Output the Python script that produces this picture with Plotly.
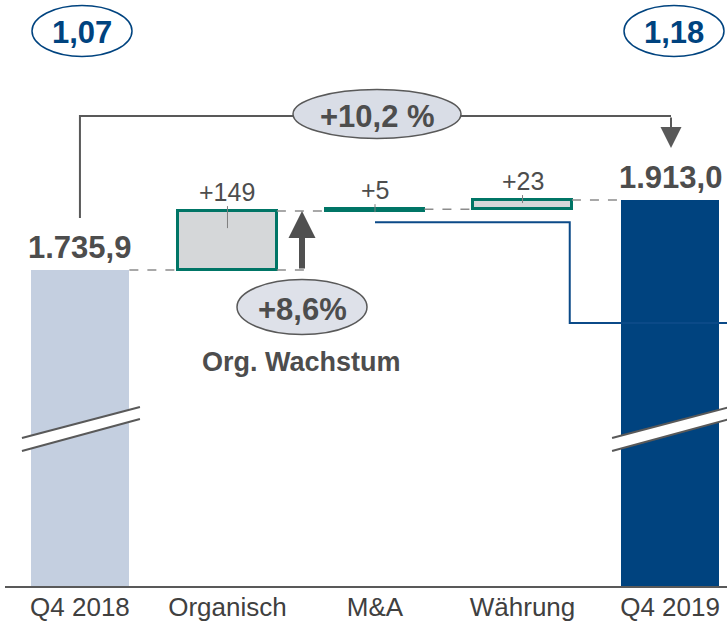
import plotly.graph_objects as go

# ---------------- data ----------------
categories = ["Q4 2018", "Organisch", "M&A", "Währung", "Q4 2019"]
start_value = 1735.9
end_value = 1913.0
deltas = [149, 5, 23]
delta_labels = ["+149", "+5", "+23"]
total_labels = ["1.735,9", "1.913,0"]
eps_labels = ["1,07", "1,18"]
growth_total_label = "+10,2 %"
growth_org_label = "+8,6%"
growth_org_caption = "Org. Wachstum"
step_line_x = [2.0, 3.32, 3.32, 4.6]
step_line_y = [1857, 1857, 1602, 1602]

# ---------------- layout geometry ----------------
W, H = 727, 626
ML, MR, MT, MB = 5, 0, 0, 40
PW, PH = W - ML - MR, H - MT - MB
Y0, Y1 = 936.5, 2419.0
X0, X1 = -0.508, 4.386
ky = PH / (Y1 - Y0)
kx = PW / (X1 - X0)


def py2v(py):
    return Y0 + (MT + PH - py) / ky


def px2x(px):
    return X0 + (px - ML) / kx


def dpx(n):
    return n / ky


BAR_W = 0.67
GRAY = "#595959"
TXT = "#4d4d4d"
NAVY = "#00437f"
TEAL = "#007566"
FONT = "Liberation Sans, Arial, sans-serif"

cum = [start_value]
for d in deltas:
    cum.append(cum[-1] + d)

fig = go.Figure()

# step line
fig.add_trace(go.Scatter(x=step_line_x, y=step_line_y, mode="lines",
                         line=dict(color="#0b4a88", width=2), hoverinfo="skip"))

# totals
fig.add_trace(go.Bar(x=[0, 4], y=[start_value, end_value], base=0, width=BAR_W,
                     marker=dict(color=["#c4cfe0", NAVY], line=dict(width=0)),
                     hoverinfo="skip"))
# deltas
fig.add_trace(go.Bar(x=[1, 2, 3], y=deltas, base=cum[:3], width=BAR_W,
                     marker=dict(color="#d5d7d9", line=dict(color=TEAL, width=3)),
                     hoverinfo="skip"))

shapes = []
annotations = []

# dashed connectors
for i in range(4):
    lvl = cum[i]
    shapes.append(dict(type="line", xref="x", yref="y",
                       x0=i + BAR_W / 2, x1=i + 1 - BAR_W / 2, y0=lvl, y1=lvl,
                       line=dict(color="#8c8c8c", width=1.5, dash="dash")))
arrow_x = px2x(302)
shapes.append(dict(type="line", xref="x", yref="y",
                   x0=1 + BAR_W / 2, x1=px2x(310), y0=cum[0], y1=cum[0],
                   line=dict(color="#8c8c8c", width=1.5, dash="dash")))

# small label ticks
for i, (d, base) in enumerate(zip(deltas, cum[:3])):
    top = base + d
    down = 17 if d * ky > 20 else 3
    shapes.append(dict(type="line", xref="x", yref="y",
                       x0=i + 1, x1=i + 1, y0=top + dpx(5), y1=top - dpx(down),
                       line=dict(color="#7f7f7f", width=1)))

# axis breaks
for cx in [0, 4]:
    xl, xr = cx - 58 / kx, cx + 60 / kx
    path = (f"M {xl},{py2v(438)} L {xr},{py2v(407)} L {xr},{py2v(419)} "
            f"L {xl},{py2v(451)} Z")
    shapes.append(dict(type="path", xref="x", yref="y", path=path,
                       fillcolor="white", line=dict(width=0)))
    shapes.append(dict(type="line", xref="x", yref="y", x0=xl, y0=py2v(438),
                       x1=xr, y1=py2v(407), line=dict(color=GRAY, width=2)))
    shapes.append(dict(type="line", xref="x", yref="y", x0=xl, y0=py2v(451),
                       x1=xr, y1=py2v(419), line=dict(color=GRAY, width=2)))

# bracket for total growth
bx_r = px2x(671)
shapes.append(dict(type="path", xref="x", yref="y",
                   path=f"M {0},{py2v(218)} L {0},{py2v(116)} L {bx_r},{py2v(116)}",
                   line=dict(color=GRAY, width=2)))
annotations.append(dict(x=bx_r, y=py2v(148), ax=bx_r, ay=py2v(116),
                        xref="x", yref="y", axref="x", ayref="y", text="",
                        showarrow=True, arrowhead=2, arrowsize=2.1, arrowwidth=2,
                        arrowcolor=GRAY, standoff=0))


def ellipse(cx_px, cy_px, w, h, fill, line_col, lw):
    return dict(type="circle", xref="x", yref="y",
                x0=px2x(cx_px - w / 2), x1=px2x(cx_px + w / 2),
                y0=py2v(cy_px + h / 2), y1=py2v(cy_px - h / 2),
                fillcolor=fill, line=dict(color=line_col, width=lw))


shapes.append(ellipse(377, 114, 168, 49, "#d9dde6", GRAY, 1.5))
shapes.append(ellipse(302, 307, 130, 55, "#dee1e9", GRAY, 1.5))
shapes.append(ellipse(82, 31, 100, 51, "white", NAVY, 1.5))
shapes.append(ellipse(674, 31, 100, 51, "white", NAVY, 1.5))

# organic growth arrow
annotations.append(dict(x=arrow_x, y=cum[1], ax=arrow_x, ay=cum[0],
                        xref="x", yref="y", axref="x", ayref="y", text="",
                        showarrow=True, arrowhead=2, arrowsize=0.9, arrowwidth=6,
                        arrowcolor="#505050", standoff=0))

# texts
for cx, lbl, val in [(0, total_labels[0], start_value), (4, total_labels[1], end_value)]:
    annotations.append(dict(x=cx, y=val, xref="x", yref="y", text=f"<b>{lbl}</b>",
                            showarrow=False, yanchor="middle", yshift=23,
                            font=dict(family=FONT, size=31, color=TXT)))
for i, (lbl, base, d) in enumerate(zip(delta_labels, cum[:3], deltas)):
    annotations.append(dict(x=i + 1, y=base + d, xref="x", yref="y", text=lbl,
                            showarrow=False, yanchor="middle", yshift=19,
                            font=dict(family=FONT, size=25, color=TXT)))
annotations.append(dict(x=px2x(377), y=py2v(116), xref="x", yref="y",
                        text=f"<b>{growth_total_label}</b>", showarrow=False,
                        font=dict(family=FONT, size=31, color=TXT)))
annotations.append(dict(x=px2x(302), y=py2v(309), xref="x", yref="y",
                        text=f"<b>{growth_org_label}</b>", showarrow=False,
                        font=dict(family=FONT, size=31, color=TXT)))
annotations.append(dict(x=px2x(301), y=py2v(362), xref="x", yref="y",
                        text=f"<b>{growth_org_caption}</b>", showarrow=False,
                        font=dict(family=FONT, size=27, color=TXT)))
for cx_px, lbl in [(82, eps_labels[0]), (674, eps_labels[1])]:
    annotations.append(dict(x=px2x(cx_px), y=py2v(32), xref="x", yref="y",
                            text=f"<b>{lbl}</b>", showarrow=False,
                            font=dict(family=FONT, size=31, color=NAVY)))

fig.update_layout(
    width=W, height=H,
    margin=dict(l=ML, r=MR, t=MT, b=MB, pad=0),
    paper_bgcolor="white", plot_bgcolor="white",
    showlegend=False, bargap=0,
    shapes=shapes, annotations=annotations,
    xaxis=dict(range=[X0, X1], tickvals=list(range(len(categories))),
               ticktext=categories, showgrid=False, zeroline=False,
               showline=True, linecolor=GRAY, linewidth=2, ticks="",
               ticklabelstandoff=-3,
               tickfont=dict(family=FONT, size=26, color="#404040"),
               fixedrange=True),
    yaxis=dict(range=[Y0, Y1], visible=False, showgrid=False, zeroline=False,
               fixedrange=True),
)

fig.write_html("out.html", config={"displayModeBar": False},
               post_script="document.body.style.margin='0';document.body.style.overflow='hidden';")
